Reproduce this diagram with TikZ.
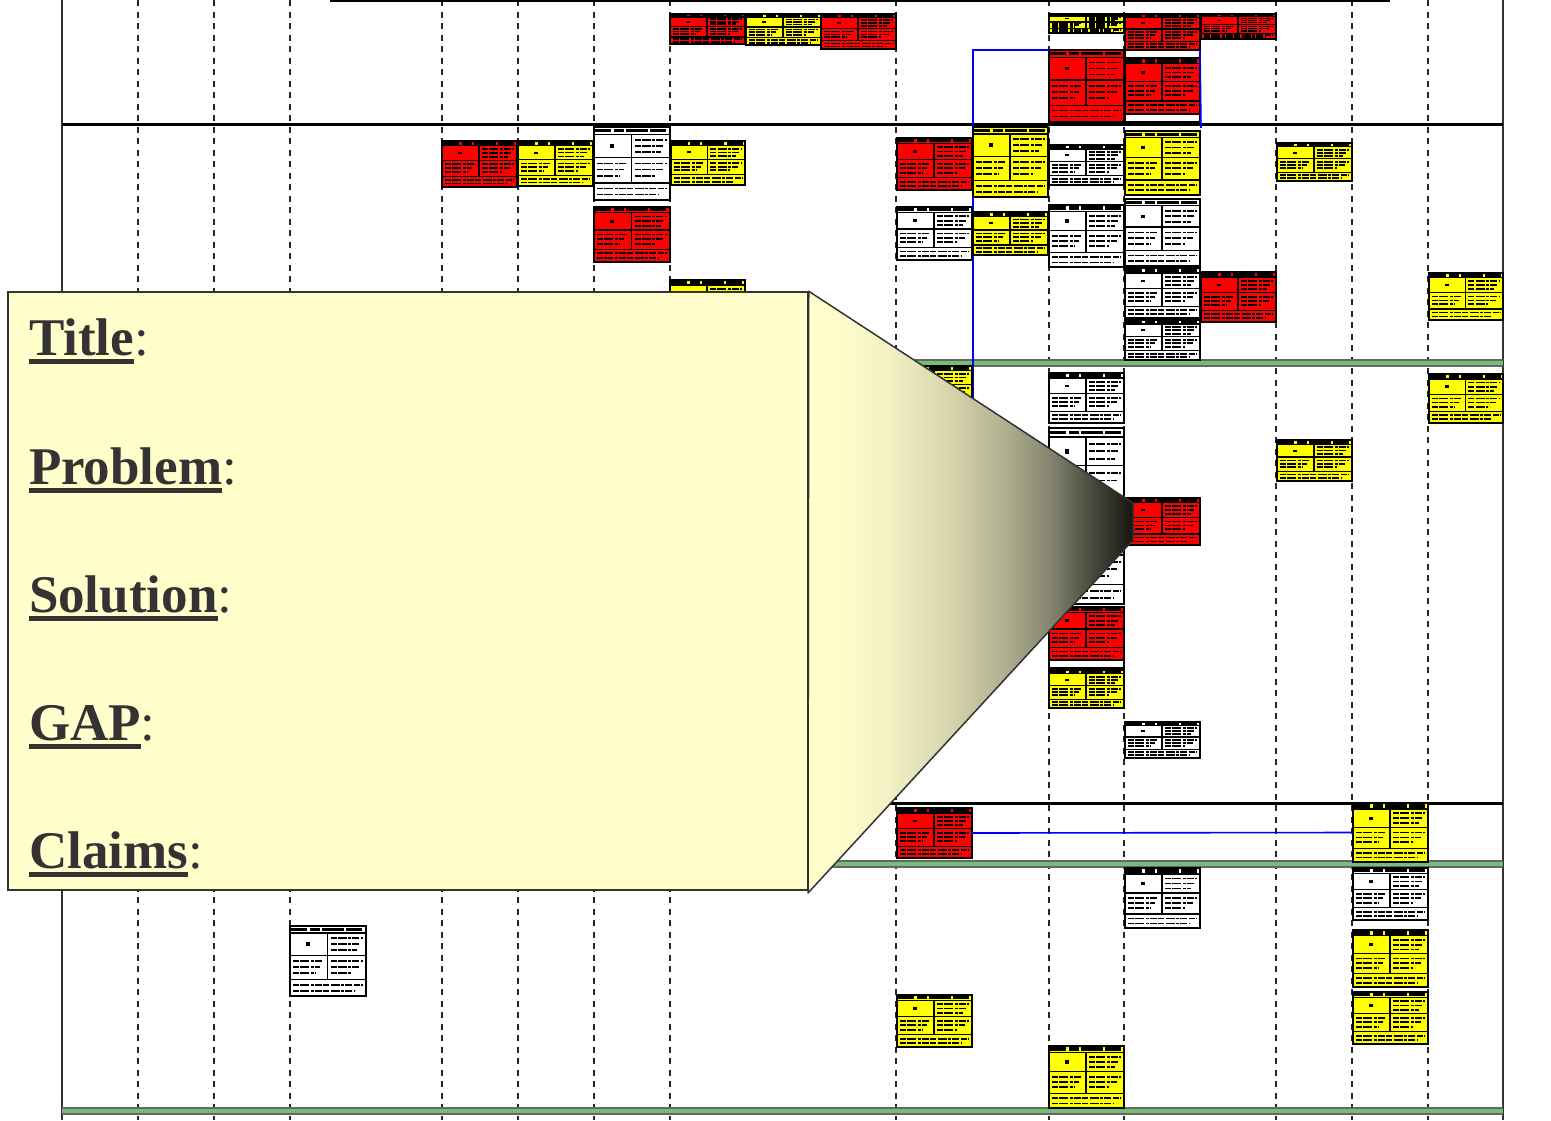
\documentclass[tikz,border=0pt]{standalone}
\usepackage{fontspec}
\setmainfont{Liberation Serif}
\usetikzlibrary{fit}
\definecolor{bred}{RGB}{255,0,0}
\definecolor{byel}{RGB}{255,255,0}
\definecolor{lanegreen}{RGB}{118,190,118}
\definecolor{callfill}{RGB}{255,255,204}
\definecolor{tgray}{RGB}{51,51,51}
\definecolor{sh1}{RGB}{252,251,202}
\definecolor{sh2}{RGB}{242,240,196}
\definecolor{sh3}{RGB}{214,212,172}
\definecolor{sh4}{RGB}{178,177,145}
\definecolor{sh5}{RGB}{130,130,110}
\definecolor{sh6}{RGB}{70,70,58}
\definecolor{shdark}{RGB}{22,22,14}
\pgfdeclarehorizontalshading{calloutshade}{100bp}{color(0bp)=(callfill); color(25bp)=(callfill); color(31bp)=(sh1); color(37.5bp)=(sh2); color(47bp)=(sh3); color(55bp)=(sh4); color(62.5bp)=(sh5); color(69bp)=(sh6); color(75bp)=(shdark); color(100bp)=(shdark)}
\tikzset{
 colline/.style={draw=black!85, line width=1.8pt, dash pattern=on 6pt off 5.5pt},
 laneblack/.style={draw=black, line width=3pt},
 gband/.style={draw=black!60, line width=7.5pt},
 gcore/.style={draw=lanegreen, line width=3.6pt},
 framel/.style={draw=black!80, line width=2.4pt},
 ubx/.style={draw=black, line width=1.8pt, inner sep=0pt, outer sep=0pt},
 pbx/.style={draw=black, line width=1.2pt, inner sep=0pt, outer sep=0pt, fill=white},
 txb/.style={line width=1.7pt, dash pattern=on 6pt off 1.2pt on 9pt off 1.5pt on 3pt off 1.2pt on 7pt off 1.5pt},
 hdr/.style={line width=3.4pt, dash pattern=on 16pt off 2.5pt on 10pt off 2pt on 22pt off 2.5pt},
 cell/.style={line width=1.2pt},
 bluel/.style={draw=blue, line width=1.6pt},
 lbl/.style={inner sep=0pt, outer sep=0pt, text=tgray, font=\fontsize{53}{60}\selectfont\bfseries},
 colon/.style={inner sep=0pt, outer sep=0pt, text=tgray, font=\fontsize{53}{60}\selectfont},
}
\newcommand\ubox[6]{%
 \node[ubx, fill=#6, fit={(#2,#3) (#4,#5)}] (#1) {};
 \begin{scope}[shift={(#2,#3)}, xscale={(#4-#2)/75}, yscale={(#5-#3)/60}]
  \draw[hdr] (1,3) -- (74,3);
  \draw[cell] (0,6) -- (75,6) (37,6) -- (37,46) (0,25) -- (75,25) (0,46) -- (75,46);
  \draw[txb] (40,10.5) -- (72,10.5) (40,15.5) -- (70,15.5) (40,20.5) -- (66,20.5)
             (3,30) -- (33,30) (3,35) -- (30,35) (3,40) -- (26,40)
             (40,30) -- (72,30) (40,35) -- (68,35) (40,40) -- (60,40)
             (3,50.5) -- (72,50.5) (3,55.5) -- (64,55.5);
  \fill (16,14) rectangle (20,17);
 \end{scope}}
\newcommand\pbox[5]{\node[pbx, fit={(#2,#3) (#4,#5)}] (#1) {};}
\newcommand\calllabel[3]{%
 \node[lbl, anchor=base west] (#1) at (29,#3) {#2};
 \fill[tgray] ([yshift=-3.5pt]#1.base west) rectangle ([yshift=-8.5pt]#1.base east);
 \node[colon, anchor=base west] (#1c) at (#1.base east) {:};}
\begin{document}
\begin{tikzpicture}[x=1pt,y=-1pt]
\useasboundingbox (0,0) rectangle (1551,1120);
% column lines
\foreach \cx in {138,214,290,442,518,594,670,896,1049,1124,1276,1352,1428}
  \draw[colline] (\cx,0) -- (\cx,1120);
% frame
\draw[framel] (62,0) -- (62,1120);
\draw[framel] (1503,0) -- (1503,1120);
\draw[line width=2pt] (330,1) -- (1390,1);
% lanes
\draw[laneblack] (62,124) -- (1503,124);
\draw[laneblack] (62,803) -- (1503,803);
\foreach \ly in {363,864,1111} {
  \draw[gband] (62,\ly) -- (1503,\ly);
  \draw[gcore] (62,\ly) -- (1503,\ly);
}
% top lane
\ubox{b1}{670}{14}{745}{44}{bred}
\ubox{b2}{746}{14}{821}{45}{byel}
\ubox{b3}{821}{14}{896}{49}{bred}
\ubox{b4}{1049}{14}{1124}{33}{byel}
\ubox{b5}{1125}{14}{1200}{50}{bred}
\ubox{b6}{1201}{14}{1276}{39}{bred}
\ubox{b7}{1049}{50}{1124}{122}{bred}
\pbox{w1}{1125}{50}{1200}{58}
\ubox{b8}{1125}{58}{1200}{114}{bred}
\pbox{w2}{1125}{114}{1200}{122}
% blue connectors
\coordinate (bl1) at (973,520);
\draw[bluel] (b7.north west) -| (bl1);
\coordinate (bl2) at (1201,128);
\draw[bluel] (b5.south east) -- (bl2);
% lane 2
\ubox{b9}{442}{141}{517}{187}{bred}
\ubox{b10}{518}{141}{593}{186}{byel}
\ubox{b11}{594}{127}{670}{200}{white}
\ubox{b12}{671}{141}{745}{185}{byel}
\ubox{b13}{594}{207}{670}{262}{bred}
\ubox{b14}{670}{280}{745}{330}{byel}
\ubox{b15}{897}{138}{972}{190}{bred}
\ubox{b16}{973}{127}{1048}{197}{byel}
\ubox{b17}{1049}{145}{1124}{185}{white}
\ubox{b18}{1125}{131}{1200}{195}{byel}
\ubox{b19}{897}{207}{972}{260}{white}
\ubox{b20}{973}{212}{1048}{255}{byel}
\ubox{b21}{1049}{205}{1124}{267}{white}
\ubox{b22}{1125}{199}{1200}{266}{white}
\ubox{b23}{1125}{268}{1200}{318}{white}
\ubox{b24}{1125}{320}{1200}{360}{white}
\ubox{b25}{1201}{272}{1276}{322}{bred}
\ubox{b26}{1277}{143}{1352}{181}{byel}
\ubox{b27}{1429}{273}{1503}{320}{byel}
% lane 3
\ubox{b28}{1429}{374}{1503}{423}{byel}
\ubox{b29}{1277}{440}{1352}{481}{byel}
\ubox{b30}{897}{366}{972}{410}{byel}
\ubox{b31}{1049}{373}{1124}{423}{white}
\ubox{b32}{1049}{428}{1124}{518}{white}
\ubox{b33}{1049}{520}{1124}{604}{white}
\ubox{b34}{1125}{498}{1200}{545}{bred}
\ubox{b35}{1049}{607}{1124}{660}{bred}
\pbox{w3}{1049}{660}{1124}{668}
\ubox{b36}{1049}{670}{1124}{708}{byel}
\ubox{b37}{1125}{722}{1200}{758}{white}
% lane 4
\ubox{b38}{897}{808}{972}{858}{bred}
\ubox{b39}{1353}{803}{1428}{862}{byel}
\draw[bluel] (b38.east) -- (b39.west);
% lane 5
\ubox{b40}{1125}{868}{1200}{928}{white}
\ubox{b41}{1353}{868}{1428}{920}{white}
\ubox{b42}{1353}{930}{1428}{987}{byel}
\ubox{b43}{1353}{992}{1428}{1044}{byel}
\ubox{b44}{897}{995}{972}{1047}{byel}
\ubox{b45}{1049}{1046}{1124}{1108}{byel}
\ubox{b46}{290}{926}{366}{996}{white}
% callout
\node[fill=callfill, draw=tgray, line width=1.5pt, inner sep=0pt, fit={(8,292) (808,890)}] (callout) {};
\shadedraw[shading=calloutshade, draw=tgray, line width=1.5pt, line join=round]
  (callout.north east) -- (1133,503) -- (1133,540) -- (808,893) -- cycle;
\calllabel{lt}{Title}{355}
\calllabel{lp}{Problem}{484}
\calllabel{ls}{Solution}{612}
\calllabel{lg}{GAP}{740}
\calllabel{lc}{Claims}{868}
\end{tikzpicture}
\end{document}
